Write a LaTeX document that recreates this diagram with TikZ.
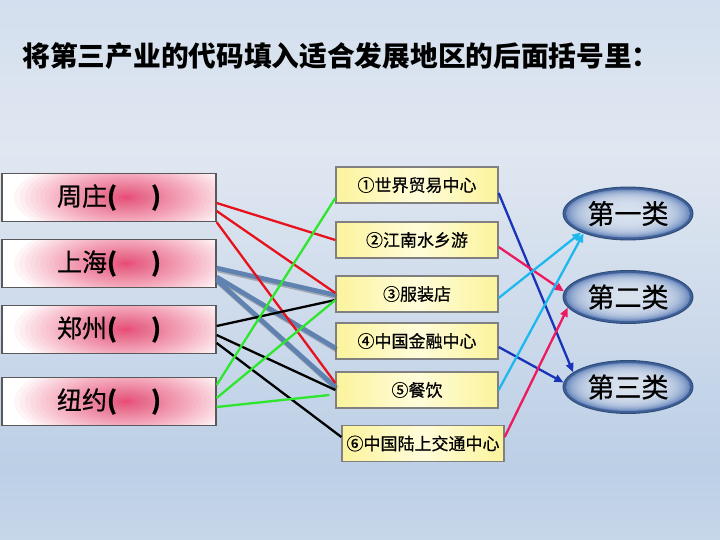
\documentclass[tikz,border=0pt]{standalone}
\usepackage{fontspec}
\usetikzlibrary{shapes.geometric,arrows.meta}
\newfontfamily\cjk{Noto Sans CJK SC}
\newfontfamily\cjkm{Noto Sans CJK SC}[FakeBold=0.6]
\definecolor{bgA}{HTML}{D3DFEE}
\definecolor{bgB}{HTML}{E0E7F1}
\definecolor{bgC}{HTML}{BCCFE6}
\definecolor{bgD}{HTML}{C7D7EA}
\definecolor{glowc}{HTML}{E82A5C}
\definecolor{ylw}{HTML}{FBF39C}
\definecolor{ylwl}{HTML}{FFFCDA}
\definecolor{ellL}{HTML}{E6EEF8}
\definecolor{ellD}{HTML}{5F80B8}
\definecolor{ellR}{HTML}{3F5F96}
\definecolor{ellB}{HTML}{2E4C78}
\definecolor{redl}{HTML}{E8121C}
\definecolor{bgray}{HTML}{5F82B0}
\definecolor{grn}{HTML}{2EE62E}
\definecolor{dblue}{HTML}{1934B8}
\definecolor{pinkr}{HTML}{EC1A5E}
\definecolor{cyanl}{HTML}{1CB8EE}
\begin{document}
\begin{tikzpicture}[x=1pt,y=-1pt,
  lbox/.style={draw=black!65,line width=1.3pt,fill=white,minimum width=214pt,minimum height=48pt,inner sep=0pt,
     font=\cjkm\fontsize{25}{28}\selectfont,
     path picture={\foreach \k in {1,...,40}
        \fill[glowc,opacity=0.042] ([xshift=17pt]path picture bounding box.center) ellipse [x radius={112pt*(\k/40)^2}, y radius={42pt*(\k/40)^2}];}},
  mbox/.style={draw=black!50,line width=1.3pt,minimum width=162pt,minimum height=36pt,inner sep=0pt,
     left color=ylw,right color=ylw,middle color=ylwl,font=\cjkm\fontsize{17}{20}\selectfont},
  cls/.style={ellipse,draw=ellB,line width=0.9pt,fill=ellR,minimum width=130pt,minimum height=53pt,inner sep=0pt,
     font=\cjkm\fontsize{27}{30}\selectfont,
     path picture={\fill[ellD] (path picture bounding box.center) ellipse [x radius=62pt, y radius=24pt];
       \foreach \k in {1,...,30}
        \fill[ellL,opacity=0.085] (path picture bounding box.center) ellipse [x radius={62pt*(\k/30)^0.55}, y radius={24pt*(\k/30)^0.55}];}},
  ln/.style={line width=2.3pt},
  bg/.style={line width=4.6pt,color=bgray},
  bgs/.style={line width=5.5pt,color=black!70,opacity=0.35},
  arr/.style={line width=2.3pt,-{Triangle[length=9pt,width=7.5pt]}}]
\useasboundingbox (0,0) rectangle (720,540);
\shade[top color=bgA,bottom color=bgB] (0,0) rectangle (720,150);
\shade[top color=bgB,bottom color=bgC] (0,150) rectangle (720,470);
\shade[top color=bgC,bottom color=bgD] (0,470) rectangle (720,540);
\node[anchor=west,font=\cjk\bfseries\fontsize{27.7}{31}\selectfont] (title) at (19,56) {将第三产业的代码填入适合发展地区的后面括号里：};
% left boxes
\node[lbox] (zz) at (109,197.5) {周庄\textbf{(}\hspace{34pt}\textbf{)}};
\node[lbox] (sh) at (109,263.5) {上海\textbf{(}\hspace{34pt}\textbf{)}};
\node[lbox] (zh) at (109,329.5) {郑州\textbf{(}\hspace{34pt}\textbf{)}};
\node[lbox] (ny) at (109,401.5) {纽约\textbf{(}\hspace{34pt}\textbf{)}};
% middle boxes
\node[mbox] (e1) at (417,185) {①世界贸易中心};
\node[mbox] (e2) at (417,240) {②江南水乡游};
\node[mbox] (e3) at (417,294) {③服装店};
\node[mbox] (e4) at (417,341) {④中国金融中心};
\node[mbox] (e5) at (417,390) {⑤餐饮};
\node[mbox] (e6) at (423,443.5) {⑥中国陆上交通中心};
% classes
\node[cls] (c1) at (628,213.5) {第一类};
\node[cls] (c2) at (628,297) {第二类};
\node[cls] (c3) at (628,387) {第三类};
% blue-gray lines with shadow
\begin{scope}[transform canvas={shift={(1.2pt,-1.5pt)}}]
\draw[bgs] ([yshift=-4.5pt]sh.east) -- ([yshift=-1pt]e3.west);
\draw[bgs] ([yshift=-13.5pt]sh.east) -- ([yshift=-7pt]e4.west);
\draw[bgs] ([yshift=-16.5pt]sh.east) -- ([yshift=3pt]e5.west);
\end{scope}
\draw[bg] ([yshift=-4.5pt]sh.east) -- ([yshift=-1pt]e3.west);
\draw[bg] ([yshift=-13.5pt]sh.east) -- ([yshift=-7pt]e4.west);
\draw[bg] ([yshift=-16.5pt]sh.east) -- ([yshift=3pt]e5.west);
% red
\draw[ln,redl] ([yshift=-5.5pt]zz.east) -- (e2.west);
\draw[ln,redl] ([yshift=-13.5pt]zz.east) -- ([yshift=1pt]e3.west);
\draw[ln,redl] (zz.south east) -- ([yshift=7pt]e5.west);
% black
\draw[ln,black] ([yshift=3.5pt]zh.east) -- ([yshift=-6pt]e3.west);
\draw[ln,black] ([yshift=-5.5pt]zh.east) -- (e5.west);
\draw[ln,black] ([yshift=-13.5pt]zh.east) -- ([yshift=6.5pt]e6.west);
% green
\draw[ln,grn] ([yshift=16.5pt]ny.east) -- ([yshift=-13pt]e1.west);
\draw[ln,grn] ([yshift=3.5pt]ny.east) -- ([yshift=-6pt]e3.west);
\draw[ln,grn] ([yshift=-5.5pt]ny.east) -- ([xshift=-6pt,yshift=-5pt]e5.west);
% arrows
\draw[arr,dblue] ([yshift=-8pt]e1.east) -- (c3.165);
\draw[arr,pinkr] ([yshift=-7pt]e2.east) -- (c2.175);
\draw[arr,cyanl] ([yshift=-4pt]e3.east) -- (c1.202);
\draw[arr,dblue] ([yshift=-6pt]e4.east) -- (c3.176);
\draw[arr,cyanl] (e5.east) -- (c1.204);
\draw[arr,pinkr] ([yshift=6.5pt]e6.east) -- (c2.190);
\end{tikzpicture}
\end{document}
